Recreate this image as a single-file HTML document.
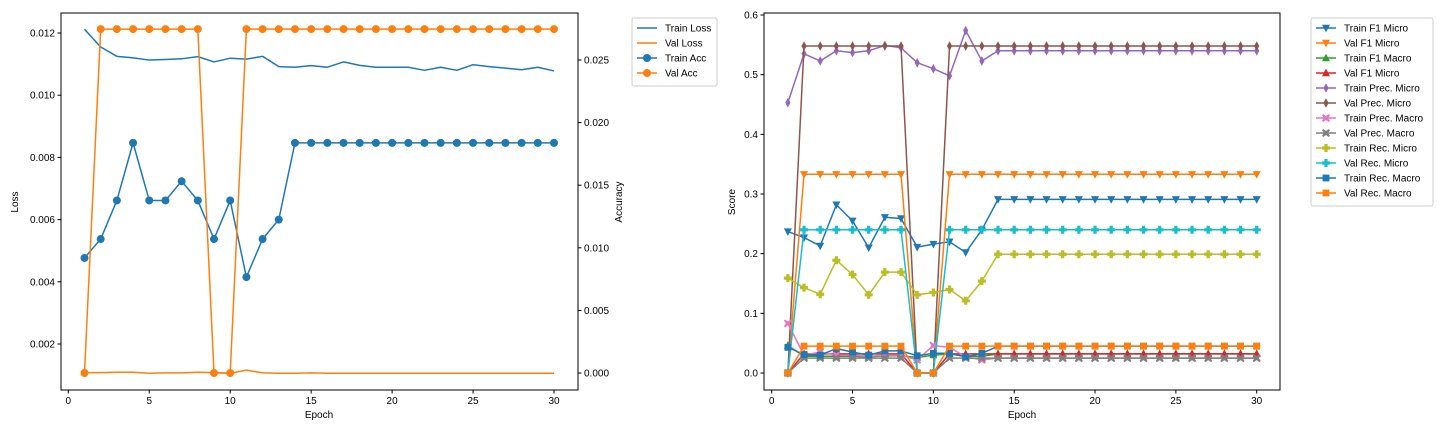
<!DOCTYPE html>
<html><head><meta charset="utf-8"><style>
body{margin:0;background:#fff;}
svg text{font-family:"Liberation Sans",sans-serif;font-size:10px;fill:#000;}
</style></head><body>
<svg id="c" width="1440" height="432" xmlns="http://www.w3.org/2000/svg"></svg>
<script>
const epochs=[1,2,3,4,5,6,7,8,9,10,11,12,13,14,15,16,17,18,19,20,21,22,23,24,25,26,27,28,29,30];
const trainLoss=[0.01212,0.01155,0.01125,0.0112,0.01113,0.01115,0.01117,0.01124,0.01107,0.01119,0.01116,0.01125,0.01092,0.0109,0.01095,0.0109,0.01107,0.01096,0.0109,0.0109,0.0109,0.0108,0.0109,0.0108,0.01098,0.01092,0.01087,0.01082,0.0109,0.01078];
const valLoss=[0.00108,0.00108,0.00109,0.00109,0.00106,0.00107,0.00107,0.00109,0.00108,0.00106,0.00116,0.00107,0.00106,0.00106,0.00107,0.00106,0.00106,0.00106,0.00106,0.00106,0.00106,0.00106,0.00106,0.00106,0.00106,0.00106,0.00106,0.00106,0.00106,0.00106];
const trainAcc=[0.00919,0.0107,0.01378,0.01838,0.01378,0.01378,0.01532,0.01378,0.0107,0.01378,0.00766,0.0107,0.01225,0.01838,0.01838,0.01838,0.01838,0.01838,0.01838,0.01838,0.01838,0.01838,0.01838,0.01838,0.01838,0.01838,0.01838,0.01838,0.01838,0.01838];
const valAcc=[0,0.02747,0.02747,0.02747,0.02747,0.02747,0.02747,0.02747,0,0,0.02747,0.02747,0.02747,0.02747,0.02747,0.02747,0.02747,0.02747,0.02747,0.02747,0.02747,0.02747,0.02747,0.02747,0.02747,0.02747,0.02747,0.02747,0.02747,0.02747];
const xTicks=[0,5,10,15,20,25,30];
const lossTicks=[0.002,0.004,0.006,0.008,0.010,0.012];
const accTicks=[0.000,0.005,0.010,0.015,0.020,0.025];
const scoreTicks=[0.0,0.1,0.2,0.3,0.4,0.5,0.6];
const trainF1Micro=[0.237,0.227,0.213,0.282,0.255,0.21,0.261,0.259,0.211,0.216,0.22,0.202,0.24,0.291,0.291,0.291,0.291,0.291,0.291,0.291,0.291,0.291,0.291,0.291,0.291,0.291,0.291,0.291,0.291,0.291];
const valF1Micro=[0,0.333,0.333,0.333,0.333,0.333,0.333,0.333,0,0,0.333,0.333,0.333,0.333,0.333,0.333,0.333,0.333,0.333,0.333,0.333,0.333,0.333,0.333,0.333,0.333,0.333,0.333,0.333,0.333];
const trainF1Macro=[0.046,0.028,0.028,0.028,0.028,0.027,0.029,0.029,0.026,0.03,0.032,0.028,0.028,0.032,0.032,0.032,0.032,0.032,0.032,0.032,0.032,0.032,0.032,0.032,0.032,0.032,0.032,0.032,0.032,0.032];
const valF1Macro=[0,0.032,0.032,0.032,0.032,0.032,0.032,0.032,0,0,0.032,0.032,0.032,0.032,0.032,0.032,0.032,0.032,0.032,0.032,0.032,0.032,0.032,0.032,0.032,0.032,0.032,0.032,0.032,0.032];
const trainPrecMicro=[0.453,0.535,0.523,0.54,0.537,0.54,0.549,0.545,0.52,0.51,0.498,0.574,0.523,0.54,0.54,0.54,0.54,0.54,0.54,0.54,0.54,0.54,0.54,0.54,0.54,0.54,0.54,0.54,0.54,0.54];
const valPrecMicro=[0,0.548,0.548,0.548,0.548,0.548,0.548,0.548,0,0,0.548,0.548,0.548,0.548,0.548,0.548,0.548,0.548,0.548,0.548,0.548,0.548,0.548,0.548,0.548,0.548,0.548,0.548,0.548,0.548];
const trainPrecMacro=[0.083,0.03,0.035,0.03,0.03,0.028,0.03,0.03,0.022,0.046,0.043,0.027,0.022,0.025,0.025,0.025,0.025,0.025,0.025,0.025,0.025,0.025,0.025,0.025,0.025,0.025,0.025,0.025,0.025,0.025];
const valPrecMacro=[0,0.025,0.025,0.025,0.025,0.025,0.025,0.025,0,0,0.025,0.025,0.025,0.025,0.025,0.025,0.025,0.025,0.025,0.025,0.025,0.025,0.025,0.025,0.025,0.025,0.025,0.025,0.025,0.025];
const trainRecMicro=[0.159,0.143,0.132,0.189,0.165,0.131,0.169,0.169,0.131,0.135,0.14,0.121,0.154,0.199,0.199,0.199,0.199,0.199,0.199,0.199,0.199,0.199,0.199,0.199,0.199,0.199,0.199,0.199,0.199,0.199];
const valRecMicro=[0,0.24,0.24,0.24,0.24,0.24,0.24,0.24,0,0,0.24,0.24,0.24,0.24,0.24,0.24,0.24,0.24,0.24,0.24,0.24,0.24,0.24,0.24,0.24,0.24,0.24,0.24,0.24,0.24];
const trainRecMacro=[0.043,0.031,0.03,0.041,0.035,0.03,0.037,0.037,0.029,0.033,0.033,0.027,0.033,0.045,0.045,0.045,0.045,0.045,0.045,0.045,0.045,0.045,0.045,0.045,0.045,0.045,0.045,0.045,0.045,0.045];
const valRecMacro=[0,0.045,0.045,0.045,0.045,0.045,0.045,0.045,0,0,0.045,0.045,0.045,0.045,0.045,0.045,0.045,0.045,0.045,0.045,0.045,0.045,0.045,0.045,0.045,0.045,0.045,0.045,0.045,0.045];

const NS="http://www.w3.org/2000/svg";
const svg=document.getElementById('c');
function mk(tag,attrs,parent,text){const e=document.createElementNS(NS,tag);for(const k in attrs)e.setAttribute(k,attrs[k]);if(text!==undefined)e.textContent=text;(parent||svg).appendChild(e);return e;}
function lin(d0,d1,r0,r1){return v=>r0+(v-d0)*(r1-r0)/(d1-d0);}

// left axes
const xL=lin(0,30,68.3,554);
const yLoss=lin(0.002,0.012,344,33);
const yAcc=lin(0,0.025,373,60);
// right axes
const xR=lin(0,30,771.7,1256.7);
const yS=lin(0,0.6,373,15);

function marker(g,type,x,y,color){
  const r=4;let e;
  if(type==='o'){e=mk('circle',{cx:x,cy:y,r:r},g);}
  else if(type==='v'){e=mk('polygon',{points:`${x-r},${y-r*0.8} ${x+r},${y-r*0.8} ${x},${y+r*1.1}`},g);}
  else if(type==='^'){e=mk('polygon',{points:`${x-r},${y+r*0.8} ${x+r},${y+r*0.8} ${x},${y-r*1.1}`},g);}
  else if(type==='d'){e=mk('polygon',{points:`${x},${y-r*1.2} ${x+r*0.65},${y} ${x},${y+r*1.2} ${x-r*0.65},${y}`},g);}
  else if(type==='s'){e=mk('rect',{x:x-r*0.85,y:y-r*0.85,width:r*1.7,height:r*1.7},g);}
  else if(type==='P'){const a=r*0.4;e=mk('polygon',{points:`${x-a},${y-r} ${x+a},${y-r} ${x+a},${y-a} ${x+r},${y-a} ${x+r},${y+a} ${x+a},${y+a} ${x+a},${y+r} ${x-a},${y+r} ${x-a},${y+a} ${x-r},${y+a} ${x-r},${y-a} ${x-a},${y-a}`},g);}
  else if(type==='X'){const a=r*0.35;e=mk('polygon',{points:`${x},${y-a*1.4} ${x+r*0.7},${y-r} ${x+r},${y-r*0.7} ${x+a*1.4},${y} ${x+r},${y+r*0.7} ${x+r*0.7},${y+r} ${x},${y+a*1.4} ${x-r*0.7},${y+r} ${x-r},${y+r*0.7} ${x-a*1.4},${y} ${x-r},${y-r*0.7} ${x-r*0.7},${y-r}`},g);}
  e.setAttribute('fill',color);
  
  
}

function series(name,vals,xs,ys,color,mtype){
  const g=mk('g',{});
  
  
  const pts=vals.map((v,i)=>xs(epochs[i]).toFixed(2)+','+ys(v).toFixed(2)).join(' ');
  const pl=mk('polyline',{points:pts,fill:'none',stroke:color,'stroke-width':1.5,'stroke-linejoin':'round'},g);
  
  
  if(mtype) vals.forEach((v,i)=>marker(g,mtype,xs(epochs[i]),ys(v),color));
}

function frame(x0,x1,y0,y1,name){
  const r=mk('rect',{x:x0,y:y0,width:x1-x0,height:y1-y0,fill:'none',stroke:'#000','stroke-width':1});
  
  
}
function xAxis(xs,y,name){
  const g=mk('g',{});
  
  
  xTicks.forEach(t=>{const x=xs(t);mk('line',{x1:x,x2:x,y1:y,y2:y+3.5,stroke:'#000'},g);mk('text',{x:x,y:y+14,'text-anchor':'middle'},g,String(t));});
}
function yAxis(ys,x,ticks,fmt,side,name){
  const g=mk('g',{});
  
  
  ticks.forEach(t=>{const y=ys(t);
    if(side==='l'){mk('line',{x1:x-3.5,x2:x,y1:y,y2:y,stroke:'#000'},g);mk('text',{x:x-6,y:y+3.5,'text-anchor':'end'},g,t.toFixed(fmt));}
    else{mk('line',{x1:x,x2:x+3.5,y1:y,y2:y,stroke:'#000'},g);mk('text',{x:x+6,y:y+3.5,'text-anchor':'start'},g,t.toFixed(fmt));}
  });
}
function label(text,x,y,rot,name){
  const t=mk('text',{x:x,y:y,'text-anchor':'middle',transform:rot?`rotate(-90 ${x} ${y})`:''},svg,text);
  
  
}
function legend(x,y,w,entries,name){
  const g=mk('g',{});
  
  
  mk('rect',{x:x,y:y,width:w,height:entries.length*15+8,rx:2,fill:'#fff',stroke:'#ccc'},g);
  entries.forEach((e,i)=>{const cy=y+10+i*15;
    const eg=mk('g',{},g);
    
    
    mk('line',{x1:x+5,x2:x+25,y1:cy,y2:cy,stroke:e[1],'stroke-width':1.5},eg);
    if(e[2])marker(eg,e[2],x+15,cy,e[1]);
    mk('text',{x:x+33,y:cy+3.5},eg,e[0]);
  });
}

const C=['#1f77b4','#ff7f0e','#2ca02c','#d62728','#9467bd','#8c564b','#e377c2','#7f7f7f','#bcbd22','#17becf'];

// LEFT CHART
series('train-loss',trainLoss,xL,yLoss,C[0],null);
series('val-loss',valLoss,xL,yLoss,C[1],null);
series('train-acc',trainAcc,xL,yAcc,C[0],'o');
series('val-acc',valAcc,xL,yAcc,C[1],'o');
frame(61,578,13,390,'left-plot-frame');
xAxis(xL,390,'left-x-axis');
yAxis(yLoss,61,lossTicks,3,'l','loss-y-axis');
yAxis(yAcc,578,accTicks,3,'r','accuracy-y-axis');
label('Epoch',319,418,false,'left-x-axis-title');
label('Loss',18,202,true,'loss-axis-title');
label('Accuracy',622,202,true,'accuracy-axis-title');
legend(632,18,85,[['Train Loss',C[0]],['Val Loss',C[1]],['Train Acc',C[0],'o'],['Val Acc',C[1],'o']],'left-legend');

// RIGHT CHART
const rs=[['Train F1 Micro',trainF1Micro,C[0],'v'],['Val F1 Micro',valF1Micro,C[1],'v'],['Train F1 Macro',trainF1Macro,C[2],'^'],['Val F1 Micro',valF1Macro,C[3],'^'],['Train Prec. Micro',trainPrecMicro,C[4],'d'],['Val Prec. Micro',valPrecMicro,C[5],'d'],['Train Prec. Macro',trainPrecMacro,C[6],'X'],['Val Prec. Macro',valPrecMacro,C[7],'X'],['Train Rec. Micro',trainRecMicro,C[8],'P'],['Val Rec. Micro',valRecMicro,C[9],'P'],['Train Rec. Macro',trainRecMacro,C[0],'s'],['Val Rec. Macro',valRecMacro,C[1],'s']];
rs.forEach(s=>series(s[0].toLowerCase().replace(/\.| /g,'-').replace(/--/g,'-'),s[1],xR,yS,s[2],s[3]));
frame(764,1280,13,390,'right-plot-frame');
xAxis(xR,390,'right-x-axis');
yAxis(yS,764,scoreTicks,1,'l','score-y-axis');
label('Epoch',1022,418,false,'right-x-axis-title');
label('Score',735,202,true,'score-axis-title');
legend(1311,18,122,rs.map(s=>[s[0],s[2],s[3]]),'right-legend');
</script>
</body></html>
